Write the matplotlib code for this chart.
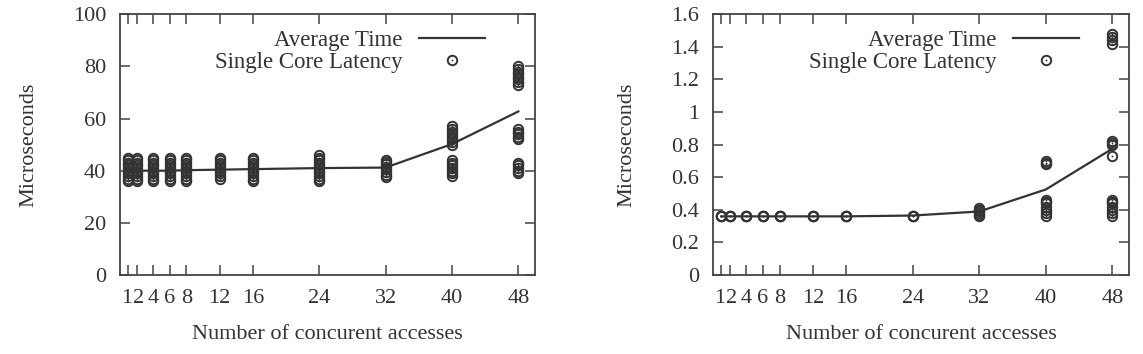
import matplotlib
matplotlib.use("Agg")
import matplotlib.pyplot as plt
from matplotlib.transforms import ScaledTranslation

plt.rcParams["font.family"] = ["Liberation Serif", "DejaVu Serif"]
plt.rcParams["font.size"] = 16

accesses = [1, 2, 4, 6, 8, 12, 16, 24, 32, 40, 48]
tick_labels = ["1", "2", "4", "6", "8", "12", "16", "24", "32", "40", "48"]

# left chart: latency of every core, per number of concurrent accesses
left_samples = [
    [36, 37, 38, 39, 40, 41, 42, 43, 44, 45],
    [36, 37, 38, 39, 40, 41, 42, 43, 44, 45],
    [36, 37, 38, 39, 40, 41, 42, 43, 44, 45],
    [36, 37, 38, 39, 40, 41, 42, 43, 44, 45],
    [36, 37, 38, 39, 40, 41, 42, 43, 44, 45],
    [37, 38, 39, 40, 41, 42, 43, 44, 45],
    [36, 37, 38, 39, 40, 41, 42, 43, 44, 45],
    [36, 37, 38, 39, 40, 41, 42, 43, 44, 45, 46],
    [37.5, 38.5, 39.5, 40.5, 41.5, 42.5, 43.5, 44],
    [38, 39, 40, 41, 42, 43, 44, 50, 51, 52, 53, 54, 55, 56, 57],
    [39, 40, 41, 42, 43, 52, 53, 54, 55, 56, 73, 74, 75, 76, 77, 78, 79, 80],
]
left_avg = [40, 40, 40, 40, 40.2, 40.4, 40.6, 41, 41.2, 50.2, 62.7]

# right chart
right_samples = [
    [0.36, 0.36, 0.36],
    [0.36, 0.36, 0.36],
    [0.36, 0.36, 0.36],
    [0.36, 0.36, 0.36],
    [0.36, 0.36, 0.36],
    [0.36, 0.36, 0.36],
    [0.36, 0.36, 0.36],
    [0.36, 0.36, 0.36],
    [0.36, 0.37, 0.38, 0.39, 0.40, 0.41],
    [0.36, 0.38, 0.40, 0.42, 0.44, 0.45, 0.46, 0.68, 0.69, 0.70],
    [0.36, 0.38, 0.40, 0.42, 0.44, 0.45, 0.46, 0.73, 0.80, 0.81, 0.82,
     1.42, 1.44, 1.46, 1.48],
]
right_avg = [0.36, 0.36, 0.36, 0.36, 0.36, 0.36, 0.36, 0.365, 0.39, 0.525, 0.775]

ink = "#333333"

fig = plt.figure(figsize=(11.43, 3.54), dpi=100)
ax1 = fig.add_axes([0.105, 0.223, 0.363, 0.737])
ax2 = fig.add_axes([0.6238, 0.223, 0.364, 0.737])


def draw(ax, samples, avg, ylim, yticks, yticklabels):
    xs, ys = [], []
    for x, vals in zip(accesses, samples):
        xs += [x] * len(vals)
        ys += vals
    line, = ax.plot(accesses, avg, color=ink, lw=1.6, zorder=3)
    ring, = ax.plot(xs, ys, "o", ms=6.8, mfc="none", mec=ink, mew=1.4, zorder=2)
    dot, = ax.plot(xs, ys, "o", ms=1.3, mfc=ink, mec="none", zorder=2)
    ax.set_xlim(0, 50)
    ax.set_ylim(*ylim)
    ax.set_xticks(accesses)
    ax.set_xticklabels(tick_labels)
    ax.set_yticks(yticks)
    ax.set_yticklabels(yticklabels)
    ax.tick_params(direction="in", length=7, width=1.1, color="#444444",
                   top=True, right=True, labelcolor=ink, pad=10)
    # "1" and "2" sit very close, nudge them apart a little
    labels = ax.get_xticklabels()
    for lab, dx in ((labels[0], -2), (labels[1], 2)):
        lab.set_transform(lab.get_transform() +
                          ScaledTranslation(dx / 100, 0, fig.dpi_scale_trans))
    for s in ax.spines.values():
        s.set_color("#444444")
        s.set_linewidth(1.3)
    ax.set_xlabel("Number of concurent accesses", color=ink, labelpad=12)
    ax.set_ylabel("Microseconds", color=ink, labelpad=25)
    ax.legend([line, (ring, dot)], ["Average Time", "Single Core Latency"],
              loc="upper right", frameon=False, markerfirst=False,
              handlelength=2.9, handletextpad=0.7, labelspacing=0.05,
              borderaxespad=0, borderpad=0, bbox_to_anchor=(0.88, 0.94),
              labelcolor=ink, fontsize=16.5)


draw(ax1, left_samples, left_avg, (0, 100),
     [0, 20, 40, 60, 80, 100], ["0", "20", "40", "60", "80", "100"])
draw(ax2, right_samples, right_avg, (0, 1.6),
     [0, 0.2, 0.4, 0.6, 0.8, 1.0, 1.2, 1.4, 1.6],
     ["0", "0.2", "0.4", "0.6", "0.8", "1", "1.2", "1.4", "1.6"])

fig.savefig("out.png", dpi=100)
